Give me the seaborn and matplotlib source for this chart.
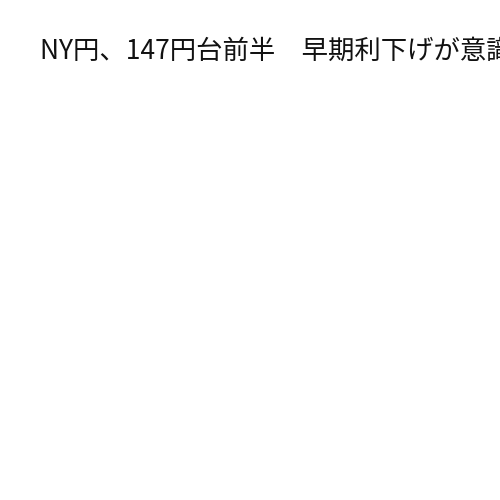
import matplotlib
matplotlib.use("Agg")
import matplotlib.pyplot as plt
import seaborn as sns

# Title only - the reference chart has no plotted data
title = "NY円、147円台前半　早期利下げが意識される"

sns.set_theme(style="white")
plt.rcParams["font.family"] = ["Noto Sans CJK JP", "DejaVu Sans"]

fig = plt.figure(figsize=(5, 5), dpi=100)
fig.patch.set_facecolor("white")
ax = fig.add_axes([0, 0, 1, 0.85])
ax.axis("off")

fig.text(40 / 500, 1 - 51 / 500, title, fontsize=19, color="#111111",
         ha="left", va="center", fontweight="normal")

fig.savefig("out.png", dpi=100, facecolor="white")
